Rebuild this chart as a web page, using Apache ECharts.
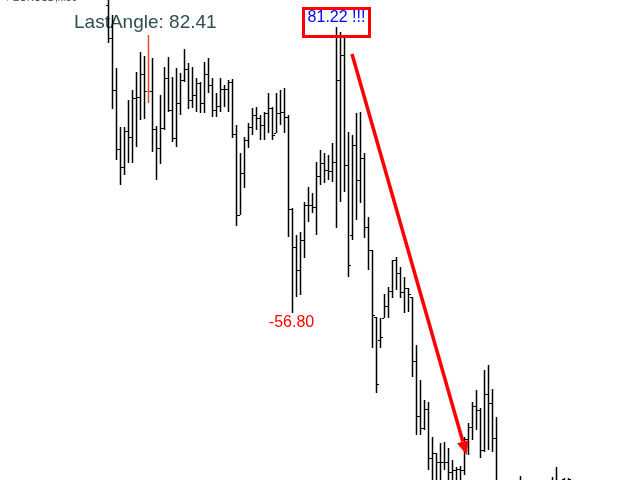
<!DOCTYPE html>
<html>
<head>
<meta charset="utf-8">
<script src="https://cdn.jsdelivr.net/npm/echarts@6/dist/echarts.min.js"></script>
<style>
html,body{margin:0;padding:0;background:#fff;}
#chart{width:640px;height:480px;}
</style>
</head>
<body>
<div id="chart"></div>
<script>
// EURUSD M30 bars, price in points, index = bar number
const openP = [
  475,442,390,331,313,349,343,382,383,406,
  389,389,351,332,352,402,370,342,377,400,
  411,380,385,397,377,406,395,370,374,391,
  391,398,346,265,307,340,353,365,362,355,
  367,372,347,367,368,363,271,233,210,240,
  275,275,273,304,317,310,309,318,400,425,
  315,245,335,300,322,253,230,163,140,162,
  174,189,220,207,188,192,183,119,64,52,
  71,22,27,18,18,18,8,10,11,10,
  41,53,74,70,30,86,77,42,null,null,
  null,null,null,-8,null,null,null,null,null,null,
  null,-5,-8,null,1,-10
];
const highP = [
  500,465,412,353,353,380,390,408,428,424,
  445,422,354,385,413,423,403,412,407,431,
  417,413,402,398,418,422,402,387,402,395,
  400,401,355,327,343,357,372,373,365,368,
  387,373,387,390,392,365,272,245,248,278,
  293,287,318,330,327,325,337,453,448,442,
  348,345,367,368,327,263,230,163,162,186,
  193,220,223,213,203,192,183,135,100,80,
  78,43,27,37,38,32,20,13,14,43,
  57,78,90,72,110,115,91,63,null,null,
  null,null,null,4,null,null,null,null,null,null,
  null,3,13,null,2,2
];
const lowP = [
  437,371,320,295,305,317,317,333,360,361,
  377,328,300,316,350,368,338,333,365,398,
  371,372,368,367,367,387,363,363,368,373,
  368,342,254,265,292,332,345,350,340,340,
  347,340,347,355,347,243,167,183,185,222,
  258,267,245,295,297,300,298,252,278,288,
  203,240,260,277,242,210,132,87,132,162,
  162,182,190,182,167,168,103,45,45,50,
  10,-5,-10,-5,10,-5,-5,-10,-5,5,
  25,40,50,22,28,30,28,-20,null,null,
  null,null,null,-20,null,null,null,null,null,null,
  null,-20,-20,null,-20,-20
];
const closeP = [
  442,390,331,313,349,343,382,383,406,389,
  389,351,332,352,402,370,342,377,400,411,
  380,385,397,377,406,395,370,374,391,391,
  398,346,265,307,340,353,365,362,355,367,
  372,345,367,368,363,271,233,210,240,275,
  275,273,304,317,310,309,318,400,425,315,
  215,335,300,322,253,230,165,96,143,174,
  189,220,207,188,192,186,119,64,52,71,
  22,27,18,18,18,8,10,11,10,41,
  53,74,70,30,86,77,42,-10,null,null,
  null,null,null,-12,null,null,null,null,null,null,
  null,-10,-4,null,-10,1
];
const signalBar = 10;            // bar drawn in red
const peakBar = 57;              // "81.22 !!!" box
const troughBar = 46;            // "-56.80" label
const titleText = 'EURUSD,M30';
const angleText = 'LastAngle: 82.41';
const peakText = '81.22 !!!';
const troughText = '-56.80';
const arrowFrom = [61, 426];     // [bar, price]
const arrowTo = [89.67, 25];

const bars = [];
for (let i = 0; i < highP.length; i++) {
  if (highP[i] == null) continue;
  bars.push([i, openP[i], highP[i], lowP[i], closeP[i]]);
}

const chart = echarts.init(document.getElementById('chart'), null, {renderer: 'canvas'});
chart.setOption({
  animation: false,
  backgroundColor: '#ffffff',
  grid: {left: 0, right: 0, top: 0, bottom: 0},
  xAxis: {type: 'value', min: -27, max: 133, show: false},
  yAxis: {type: 'value', min: 0, max: 480, show: false},
  series: [{
    type: 'custom',
    silent: true,
    clip: false,
    encode: {x: 0, y: [1, 2, 3, 4]},
    data: bars,
    renderItem: function (params, api) {
      const i = api.value(0);
      const pH = api.coord([i, api.value(2)]);
      const pL = api.coord([i, api.value(3)]);
      const pO = api.coord([i, api.value(1)]);
      const pC = api.coord([i, api.value(4)]);
      const x = Math.round(pH[0]) + 0.5;
      const yO = Math.round(pO[1]) + 0.5;
      const yC = Math.round(pC[1]) + 0.5;
      const color = i === signalBar ? '#e2492f' : '#000000';
      const st = {stroke: color, lineWidth: 1.5};
      const tk = {stroke: color, lineWidth: 1.2};
      return {
        type: 'group',
        children: [
          {type: 'line', shape: {x1: x, y1: Math.round(pH[1]), x2: x, y2: Math.round(pL[1])}, style: st},
          {type: 'line', shape: {x1: x - 2.5, y1: yO, x2: x - 0.5, y2: yO}, style: tk},
          {type: 'line', shape: {x1: x + 0.5, y1: yC, x2: x + 2.5, y2: yC}, style: tk}
        ]
      };
    }
  }]
});

const toPx = (pt) => chart.convertToPixel({gridIndex: 0}, pt);
const pk = toPx([peakBar, highP[peakBar]]);
const tr = toPx([troughBar, lowP[troughBar]]);
const a0 = toPx(arrowFrom);
const a1 = toPx(arrowTo);
const dx = a1[0] - a0[0], dy = a1[1] - a0[1];
const len = Math.sqrt(dx * dx + dy * dy);
const ux = dx / len, uy = dy / len;
const headLen = 14, headHalf = 6;
const bx = a1[0] - ux * headLen, by = a1[1] - uy * headLen;

chart.setOption({
  graphic: [
    {type: 'text', x: 5, y: 3.5, style: {text: '▾ ' + titleText, font: '10px "Liberation Sans", Arial, sans-serif', fill: '#444', textVerticalAlign: 'bottom'}},
    {type: 'text', x: 74, y: 22.5, style: {text: angleText, font: '19px "Liberation Sans", Arial, sans-serif', fill: '#2f4f4f', textVerticalAlign: 'middle'}},
    {type: 'rect', shape: {x: pk[0] - 32.5, y: pk[1] - 18.5, width: 66, height: 28}, style: {fill: 'none', stroke: '#ff0000', lineWidth: 3}, z: 10},
    {type: 'text', x: pk[0] + 0.5, y: pk[1] - 9.5, style: {text: peakText, font: '16px "Liberation Sans", Arial, sans-serif', fill: '#0000ff', textAlign: 'center', textVerticalAlign: 'middle'}, z: 10},
    {type: 'text', x: tr[0] - 0.5, y: tr[1] + 9.5, style: {text: troughText, font: '16px "Liberation Sans", Arial, sans-serif', fill: '#ff0000', textAlign: 'center', textVerticalAlign: 'middle'}, z: 10},
    {type: 'line', shape: {x1: a0[0], y1: a0[1], x2: bx, y2: by}, style: {stroke: '#ff0000', lineWidth: 3.5}, z: 10},
    {type: 'polygon', shape: {points: [[a1[0], a1[1]], [bx - uy * headHalf, by + ux * headHalf], [bx + uy * headHalf, by - ux * headHalf]]}, style: {fill: '#ff0000'}, z: 10}
  ]
});
</script>
</body>
</html>
